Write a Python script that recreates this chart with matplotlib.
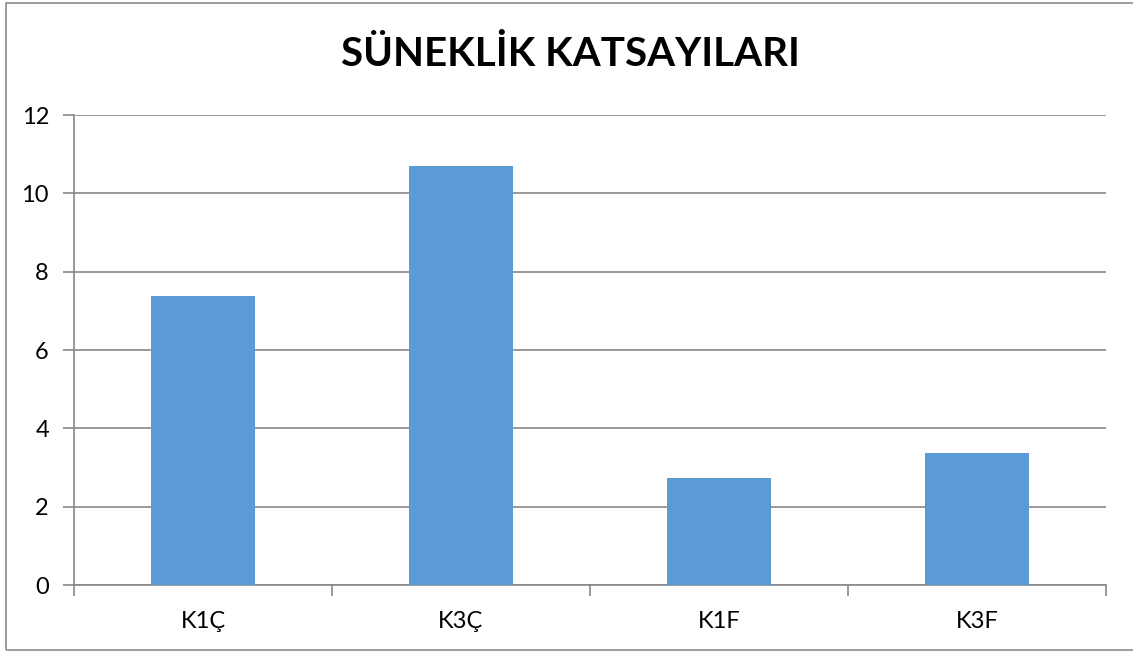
import matplotlib
matplotlib.use('Agg')
import matplotlib.pyplot as plt
from matplotlib.patches import Rectangle
import numpy as np

plt.rcParams['font.family'] = ['Lato', 'DejaVu Sans']

# süneklik katsayıları
kategoriler = ['K1Ç', 'K3Ç', 'K1F', 'K3F']
degerler = [7.38, 10.70, 2.73, 3.37]
y_ticks = [0, 2, 4, 6, 8, 10, 12]
baslik = 'SÜNEKLİK KATSAYILARI'

W, H = 1133, 652
fig = plt.figure(figsize=(W / 100, H / 100), dpi=100)
fig.patch.set_facecolor('white')

# grafik çerçevesi
fig.patches.append(Rectangle((6 / W, 1 - 650 / H), 1.2, (650 - 3) / H,
                             transform=fig.transFigure, fill=False,
                             edgecolor='#8c8c8c', linewidth=1.2))

ax = fig.add_axes([74 / W, 1 - 585 / H, (1106 - 74) / W, (585 - 115) / H])
x = np.arange(len(kategoriler))
ax.bar(x, degerler, width=0.4, color='#5b9bd5', zorder=3)

ax.set_xlim(-0.5, len(kategoriler) - 0.5)
ax.set_ylim(0, 12)
ax.set_yticks(y_ticks)
ax.yaxis.grid(True, color='#888888', linewidth=1.2, zorder=0)

# kategori sınırlarında tick, etiketler ortada
ax.set_xticks(np.arange(-0.5, len(kategoriler)), minor=False)
ax.set_xticklabels([])
ax.set_xticks(x, minor=True)
ax.set_xticklabels(kategoriler, minor=True)
ax.tick_params(axis='x', which='major', length=8, width=1.2, color='#888888', direction='out')
ax.tick_params(axis='x', which='minor', length=0, pad=19, labelsize=17)
ax.tick_params(axis='y', length=8, width=1.2, color='#888888', direction='out', pad=10, labelsize=17)

for s in ['top', 'right']:
    ax.spines[s].set_visible(False)
for s in ['left', 'bottom']:
    ax.spines[s].set_color('#888888')
    ax.spines[s].set_linewidth(1.2)

fig.text(570 / W, 1 - 55 / H, baslik, ha='center', va='center',
         fontsize=29, fontweight='bold', color='black')

fig.savefig('out.png', dpi=100)
